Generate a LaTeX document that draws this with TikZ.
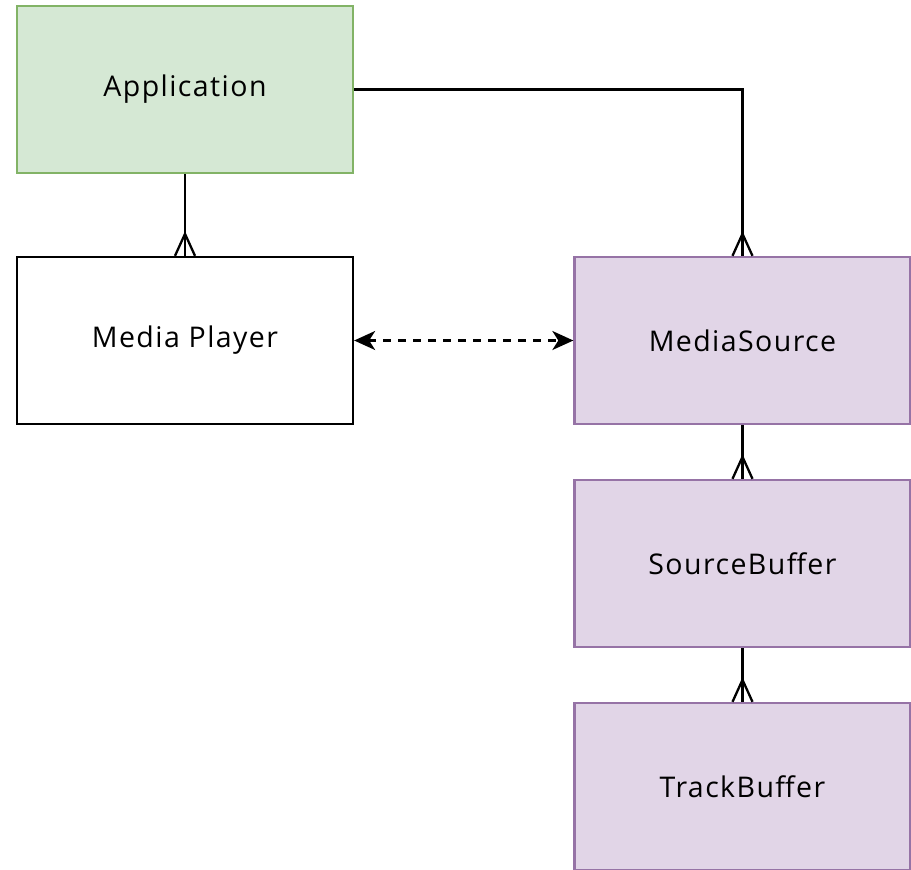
\documentclass[tikz,border=0pt]{standalone}
\usepackage{fontspec}
\setmainfont[LetterSpace=5]{Open Sans}
\usetikzlibrary{arrows.meta,decorations.markings}
\definecolor{appfill}{HTML}{D5E8D4}
\definecolor{appline}{HTML}{82B366}
\definecolor{msefill}{HTML}{E1D5E7}
\definecolor{mseline}{HTML}{9673A6}
\begin{document}
\begin{tikzpicture}[x=1pt,y=-1pt,
	box/.style={draw, line width=2.3pt, minimum width=336pt, minimum height=167pt,
		inner sep=0pt, font=\fontsize{28.5}{32}\selectfont},
	greenbox/.style={box, draw=appline, fill=appfill},
	purplebox/.style={box, draw=mseline, fill=msefill},
	crowfoot/.style={line width=2.3pt, postaction={decorate}, decoration={markings,
		mark=at position 1 with {\draw[line width=2.3pt] (-22pt,0pt) -- (0pt,10pt);
			\draw[line width=2.3pt] (-22pt,0pt) -- (0pt,-10pt);}}},
	both/.style={line width=2.3pt, dash pattern=on 8pt off 7pt,
		{Stealth[length=21pt,width=19pt,inset=6pt]}-{Stealth[length=21pt,width=19pt,inset=6pt]}}]
	\clip (0,0) rectangle (911,870);
	\node[greenbox] (app) at (185,89.5) {Application};
	\node[box] (player) at (185,340.5) {Media Player};
	\node[purplebox] (msrc) at (742.5,340.5) {MediaSource};
	\node[purplebox] (sbuf) at (742.5,563.5) {SourceBuffer};
	\node[purplebox] (tbuf) at (742.5,786.5) {TrackBuffer};
	\draw[crowfoot] (app) -- (player);
	\draw[crowfoot] (app.east) -| (msrc.north);
	\draw[both] (player) -- (msrc);
	\draw[crowfoot, line width=3.5pt] (msrc) -- (sbuf);
	\draw[crowfoot, line width=3.5pt] (sbuf) -- (tbuf);
\end{tikzpicture}
\end{document}
